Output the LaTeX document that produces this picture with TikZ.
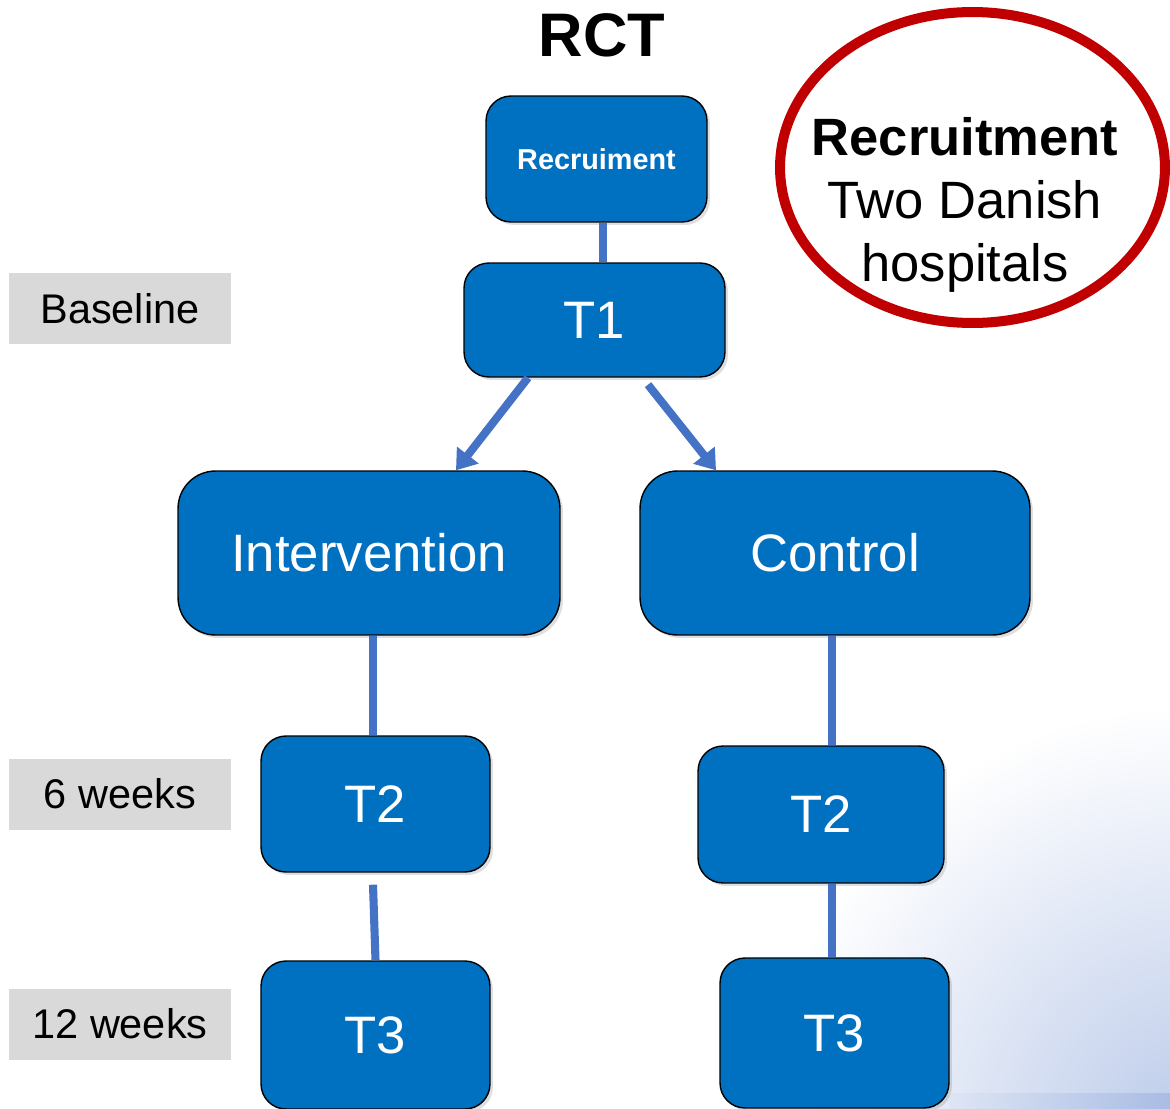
\documentclass[tikz,border=0pt]{standalone}
\usepackage{fontspec}
\setmainfont{Liberation Sans}
\usetikzlibrary{arrows.meta,shapes.geometric,shadows}

\definecolor{boxblue}{HTML}{0070C0}
\definecolor{linkblue}{HTML}{4472C4}
\definecolor{labelgray}{HTML}{D9D9D9}
\definecolor{ringred}{HTML}{C00000}
\definecolor{haze}{HTML}{BCCBEA}
\definecolor{barblue}{HTML}{A9BCE4}

\begin{document}
\begin{tikzpicture}[
  x=0.02cm, y=-0.02cm,
  stage/.style={draw=black, line width=0.8pt, fill=boxblue, text=white,
                rounded corners=0.5cm, align=center, inner sep=0pt,
                font=\fontsize{30}{36}\selectfont,
                drop shadow={opacity=0.25, shadow xshift=0.06cm, shadow yshift=-0.06cm}},
  arm/.style={stage, rounded corners=0.75cm},
  period/.style={fill=labelgray, minimum width=4.44cm, minimum height=1.42cm,
                 font=\fontsize{23.6}{28}\selectfont},
  link/.style={draw=linkblue, line width=4.6pt},
  split/.style={link, -{Triangle[length=11pt,width=15pt]}}
]
\useasboundingbox (0,0) rectangle (1170,1109);

% soft corner tint
\begin{scope}
  \clip (0,0) rectangle (1170,1109);
  \shade[inner color=haze, outer color=white] (1190,1130) circle (8.5cm);
  \shade[left color=haze!50, right color=barblue] (950,1093) rectangle (1170,1109);
\end{scope}

\node[font=\bfseries\fontsize{35}{42}\selectfont] (rct) at (602,35) {RCT};

\node[stage, minimum width=4.42cm, minimum height=2.52cm,
      font=\bfseries\fontsize{16.4}{20}\selectfont] (recr) at (596.5,159) {Recruiment};
\node[stage, minimum width=5.22cm, minimum height=2.28cm] (t1) at (594.5,320) {T1};
\node[arm, minimum width=7.64cm, minimum height=3.28cm] (interv) at (369,553) {Intervention};
\node[arm, minimum width=7.8cm, minimum height=3.28cm] (ctrl) at (835,553) {Control};
\node[stage, minimum width=4.58cm, minimum height=2.72cm] (t2a) at (375.5,804) {T2};
\node[stage, minimum width=4.92cm, minimum height=2.74cm] (t2b) at (821,814.5) {T2};
\node[stage, minimum width=4.58cm, minimum height=2.96cm] (t3a) at (375.5,1035) {T3};
\node[stage, minimum width=4.58cm, minimum height=3.0cm] (t3b) at (834.5,1033) {T3};

% time points
\node[period] (base) at (120,308.5) {Baseline};
\node[period] (wk6) at (120,794) {6 weeks};
\node[period] (wk12) at (120,1024) {12 weeks};

% recruitment sites
\node[ellipse, draw=ringred, line width=5.7pt, minimum width=7.7cm,
      minimum height=6.22cm] (site) at (972.5,167.5) {};
\node[align=center, font=\fontsize{29.9}{36}\selectfont] (sitetxt) at (965,205)
  {\textbf{Recruitment}\\Two Danish\\hospitals};

\draw[link] ([xshift=0.13cm]recr.south) -- ([xshift=0.13cm]recr.south |- t1.north);
\draw[split] ([xshift=-1.33cm]t1.south) -- ([xshift=1.74cm]interv.north);
\draw[split] ([xshift=1.07cm,yshift=-0.14cm]t1.south) -- ([xshift=-2.38cm]ctrl.north);
\draw[link] ([xshift=0.08cm]interv.south) -- ([xshift=0.08cm]interv.south |- t2a.north);
\draw[link] ([xshift=-0.05cm,yshift=-0.24cm]t2a.south) -- (t3a.north);
\draw[link] ([xshift=-0.06cm]ctrl.south) -- ([xshift=-0.06cm]ctrl.south |- t2b.north);
\draw[link] ([xshift=-0.06cm]ctrl.south |- t2b.south) -- ([xshift=-0.06cm]ctrl.south |- t3b.north);
\end{tikzpicture}
\end{document}
